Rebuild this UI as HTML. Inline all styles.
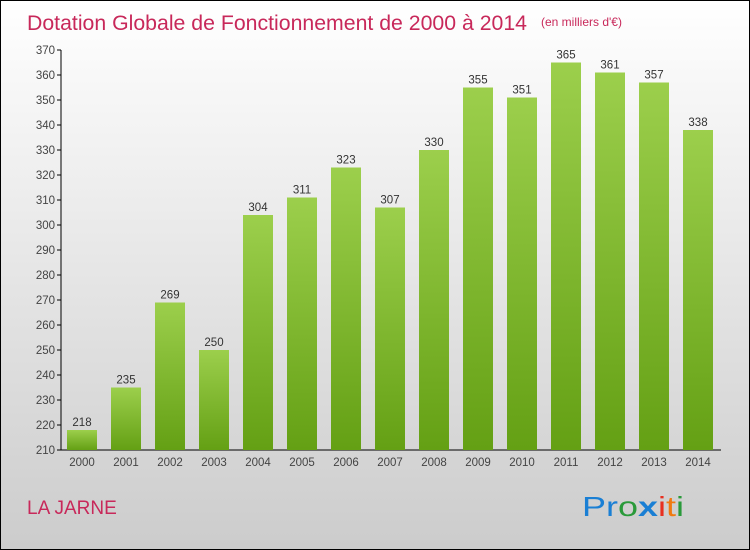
<!DOCTYPE html>
<html><head><meta charset="utf-8"><style>
body{margin:0;width:750px;height:550px;overflow:hidden}
#c{position:absolute;left:0;top:0;width:748px;height:548px;border:1px solid #000;background:linear-gradient(#fff,#ccc)}
svg{position:absolute;left:0;top:0}
text{font-family:"Liberation Sans",sans-serif}
</style></head><body>
<div id="c"></div>
<svg id="s" width="750" height="550">
<defs><linearGradient id="g" x1="0" y1="0" x2="0" y2="1"><stop offset="0" stop-color="#9ccf4c"/><stop offset="1" stop-color="#64a014"/></linearGradient></defs>
<text x="27" y="30" font-size="21" fill="#c8285a" textLength="500" lengthAdjust="spacingAndGlyphs">Dotation Globale de Fonctionnement de 2000 à 2014</text>
<text x="541" y="26" font-size="12" fill="#c8285a">(en milliers d'€)</text>
<text x="27" y="514" font-size="19" fill="#c8285a">LA JARNE</text>
<g font-size="28">
<text x="582" y="516" textLength="102" lengthAdjust="spacingAndGlyphs"><tspan fill="#1a7fd4">Pr</tspan><tspan fill="#2a9a3a">o</tspan><tspan fill="#1a7fd4" font-weight="bold">x</tspan><tspan fill="#e83020">i</tspan><tspan fill="#f07a10">t</tspan><tspan fill="#2a9a3a">i</tspan></text>
</g>
<g id="axes"></g><g id="bars"></g>
</svg>
<script>
const years=["2000","2001","2002","2003","2004","2005","2006","2007","2008","2009","2010","2011","2012","2013","2014"];
const values=[218,235,269,250,304,311,323,307,330,355,351,365,361,357,338];
const yTicks=[210,220,230,240,250,260,270,280,290,300,310,320,330,340,350,360,370];
const NS="http://www.w3.org/2000/svg";
const y=v=>450-(v-210)*2.5;
const x=i=>82+i*44;
function mk(t,a,p){const e=document.createElementNS(NS,t);for(const k in a)e.setAttribute(k,a[k]);p.appendChild(e);return e;}
const ax=document.getElementById('axes'),bs=document.getElementById('bars');
let l=mk('line',{x1:61,y1:50,x2:61,y2:450,stroke:'#000'},ax);


l=mk('line',{x1:61,y1:450,x2:721,y2:450,stroke:'#000'},ax);


yTicks.forEach(v=>{
 const t=mk('line',{x1:57,x2:61,y1:y(v),y2:y(v),stroke:'#000'},ax);
 
 
 const tx=mk('text',{x:55,y:y(v)+4,'font-size':11.5,fill:'#444','text-anchor':'end'},ax);
 tx.textContent=v;
 
 
});
years.forEach((yr,i)=>{
 const r=mk('rect',{x:x(i)-15,y:y(values[i]),width:30,height:450-y(values[i]),fill:'url(#g)'},bs);
 
 
 const v=mk('text',{x:x(i),y:y(values[i])-4,'font-size':11.5,fill:'#333','text-anchor':'middle'},bs);
 v.textContent=values[i];
 
 
 const tx=mk('text',{x:x(i),y:466,'font-size':11.5,fill:'#444','text-anchor':'middle'},bs);
 tx.textContent=yr;
 
 
});
</script>
</body></html>
